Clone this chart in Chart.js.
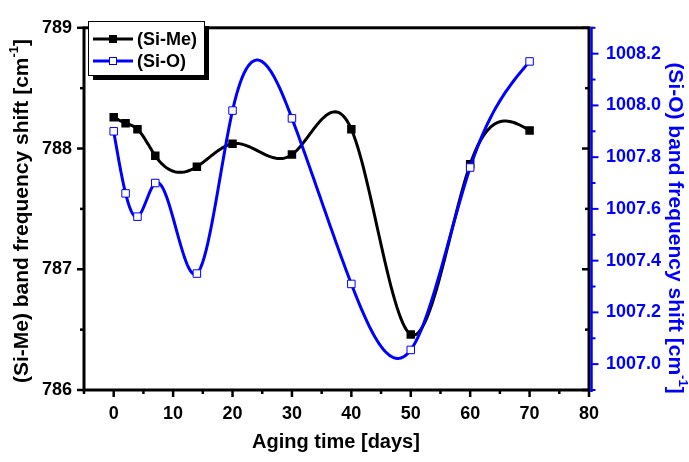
<!DOCTYPE html>
<html>
<head>
<meta charset="utf-8">
<script src="https://cdn.jsdelivr.net/npm/chart.js@4.4.0/dist/chart.umd.min.js"></script>
<style>
  html, body { margin: 0; padding: 0; background: #fff; }
  #wrap { width: 689px; height: 462px; }
</style>
</head>
<body>
<div id="wrap"><canvas id="chart"></canvas></div>
<script>
// data
const agingDays = [0, 2, 4, 7, 14, 20, 30, 40, 50, 60, 70];
const siMeShift = [788.26, 788.21, 788.16, 787.94, 787.85, 788.04, 787.95, 788.16, 786.46, 787.87, 788.15];
const siOShift = [1007.90, 1007.66, 1007.57, 1007.70, 1007.35, 1007.98, 1007.95, 1007.31, 1007.055, 1007.76, 1008.17];
const seriesNames = ['(Si-Me)', '(Si-O)'];
const xTitle = 'Aging time [days]';
const leftTitle = '(Si-Me) band frequency shift [cm';
const rightTitle = '(Si-O) band frequency shift [cm';

const BLUE = '#0000ff';
const BLACK = '#000000';
const FONT = "'Liberation Sans', Arial, sans-serif";

// natural cubic spline (Origin style "Spline" connector)
function secondDerivs(xs, ys) {
  const n = xs.length;
  const M = new Array(n).fill(0);
  const c = new Array(n).fill(0);
  const d = new Array(n).fill(0);
  for (let i = 1; i < n - 1; i++) {
    const h0 = xs[i] - xs[i - 1], h1 = xs[i + 1] - xs[i];
    const a = h0, b = 2 * (h0 + h1);
    const rhs = 6 * ((ys[i + 1] - ys[i]) / h1 - (ys[i] - ys[i - 1]) / h0);
    const den = b - a * c[i - 1];
    c[i] = h1 / den;
    d[i] = (rhs - a * d[i - 1]) / den;
  }
  for (let i = n - 2; i >= 1; i--) M[i] = d[i] - c[i] * M[i + 1];
  return M;
}

const splinePlugin = {
  id: 'spline',
  beforeDatasetDraw(chart, args) {
    const ds = chart.data.datasets[args.index];
    const xs = ds.data.map(p => p.x);
    const ys = ds.data.map(p => p.y);
    const M = secondDerivs(xs, ys);
    const xs_ = chart.scales.x, ys_ = chart.scales[ds.yAxisID];
    const ctx = chart.ctx, area = chart.chartArea;
    ctx.save();
    ctx.beginPath();
    ctx.rect(area.left, area.top, area.right - area.left, area.bottom - area.top);
    ctx.clip();
    ctx.beginPath();
    for (let i = 0; i < xs.length - 1; i++) {
      const h = xs[i + 1] - xs[i];
      const steps = 30;
      for (let s = 0; s <= steps; s++) {
        const x = xs[i] + h * s / steps;
        const A = (xs[i + 1] - x) / h, B = (x - xs[i]) / h;
        const y = A * ys[i] + B * ys[i + 1] + ((A * A * A - A) * M[i] + (B * B * B - B) * M[i + 1]) * h * h / 6;
        const px = xs_.getPixelForValue(x), py = ys_.getPixelForValue(y);
        if (i === 0 && s === 0) ctx.moveTo(px, py); else ctx.lineTo(px, py);
      }
    }
    ctx.strokeStyle = ds.borderColor;
    ctx.lineWidth = 3;
    ctx.lineJoin = 'round';
    ctx.stroke();
    ctx.restore();
  }
};

function drawSupTitle(ctx, text, size) {
  // text + superscript "-1" + "]"
  ctx.font = `bold ${size}px ${FONT}`;
  const w1 = ctx.measureText(text).width;
  ctx.font = `bold ${Math.round(size * 0.62)}px ${FONT}`;
  const w2 = ctx.measureText('-1').width;
  ctx.font = `bold ${size}px ${FONT}`;
  const w3 = ctx.measureText(']').width;
  let x = -(w1 + w2 + w3) / 2;
  ctx.textAlign = 'left';
  ctx.textBaseline = 'middle';
  ctx.fillText(text, x, 0);
  x += w1;
  ctx.font = `bold ${Math.round(size * 0.62)}px ${FONT}`;
  ctx.fillText('-1', x, -size * 0.36);
  x += w2;
  ctx.font = `bold ${size}px ${FONT}`;
  ctx.fillText(']', x, 0);
}

const framePlugin = {
  id: 'frame',
  afterDraw(chart) {
    const ctx = chart.ctx, a = chart.chartArea;
    const sx = chart.scales.x, sl = chart.scales.yL, sr = chart.scales.yR;
    ctx.save();

    // bottom ticks (outward) and left ticks (outward), mirrored left ticks on right (inward)
    ctx.strokeStyle = BLACK;
    ctx.lineWidth = 2.5;
    sx.ticks.forEach(t => {
      const px = sx.getPixelForValue(t.value);
      const len = t.label !== '' ? 7 : 4;
      ctx.beginPath(); ctx.moveTo(px, a.bottom); ctx.lineTo(px, a.bottom + len); ctx.stroke();
    });
    sl.ticks.forEach(t => {
      const py = sl.getPixelForValue(t.value);
      const len = t.label !== '' ? 7 : 4;
      ctx.beginPath(); ctx.moveTo(a.left, py); ctx.lineTo(a.left - len, py); ctx.stroke();
      ctx.beginPath(); ctx.moveTo(a.right, py); ctx.lineTo(a.right - len, py); ctx.stroke();
    });

    // frame
    ctx.lineWidth = 3;
    ctx.strokeRect(a.left, a.top, a.right - a.left, a.bottom - a.top);

    // right blue axis
    ctx.strokeStyle = BLUE;
    ctx.lineWidth = 2.5;
    const rx = a.right + 2.5;
    ctx.beginPath(); ctx.moveTo(rx, a.top - 1); ctx.lineTo(rx, sr.getPixelForValue(1006.9) + 2); ctx.stroke();
    ctx.lineWidth = 2;
    sr.ticks.forEach(t => {
      const py = sr.getPixelForValue(t.value);
      const len = t.label !== '' ? 7 : 4;
      ctx.beginPath(); ctx.moveTo(rx, py); ctx.lineTo(rx + len, py); ctx.stroke();
    });

    // axis titles
    ctx.fillStyle = BLACK;
    ctx.font = `bold 20px ${FONT}`;
    ctx.textAlign = 'center';
    ctx.textBaseline = 'middle';
    ctx.fillText(xTitle, (a.left + a.right) / 2 - 0.5, 442);

    ctx.save();
    ctx.translate(22, 211);
    ctx.rotate(-Math.PI / 2);
    drawSupTitle(ctx, leftTitle, 21);
    ctx.restore();

    ctx.save();
    ctx.fillStyle = BLUE;
    ctx.translate(675, 228);
    ctx.rotate(Math.PI / 2);
    drawSupTitle(ctx, rightTitle, 21);
    ctx.restore();

    // legend
    const lx = 88, ly = 21, lw = 116, lh = 54;
    ctx.fillStyle = BLACK;
    ctx.fillRect(lx + 5, ly + 5, lw, lh);
    ctx.fillStyle = '#fff';
    ctx.fillRect(lx, ly, lw, lh);
    ctx.strokeStyle = BLACK;
    ctx.lineWidth = 1;
    ctx.strokeRect(lx + 0.5, ly + 0.5, lw, lh);
    const rows = [
      { name: seriesNames[0], color: BLACK, fill: BLACK, y: 39 },
      { name: seriesNames[1], color: BLUE, fill: '#fff', y: 61 }
    ];
    rows.forEach(r => {
      ctx.strokeStyle = r.color;
      ctx.lineWidth = 3;
      ctx.beginPath(); ctx.moveTo(93, r.y); ctx.lineTo(133, r.y); ctx.stroke();
      ctx.fillStyle = r.fill;
      ctx.fillRect(109, r.y - 4, 8, 8);
      ctx.strokeStyle = r.color;
      ctx.lineWidth = 1;
      ctx.strokeRect(109.5, r.y - 3.5, 7, 7);
      ctx.fillStyle = BLACK;
      ctx.font = `bold 18px ${FONT}`;
      ctx.textAlign = 'left';
      ctx.textBaseline = 'middle';
      ctx.fillText(r.name, 137, r.y + 1);
    });

    ctx.restore();
  }
};

const tickFont = { family: FONT, size: 18, weight: 'bold' };

new Chart(document.getElementById('chart'), {
  type: 'line',
  data: {
    datasets: [
      {
        label: seriesNames[0],
        data: agingDays.map((d, i) => ({ x: d, y: siMeShift[i] })),
        yAxisID: 'yL',
        showLine: false,
        borderColor: BLACK,
        pointStyle: 'rect',
        pointRadius: 6,
        pointBackgroundColor: BLACK,
        pointBorderColor: BLACK,
        pointBorderWidth: 0,
        order: 1
      },
      {
        label: seriesNames[1],
        data: agingDays.map((d, i) => ({ x: d, y: siOShift[i] })),
        yAxisID: 'yR',
        showLine: false,
        borderColor: BLUE,
        pointStyle: 'rect',
        pointRadius: 5.3,
        pointBackgroundColor: '#ffffff',
        pointBorderColor: BLUE,
        pointBorderWidth: 1,
        order: 0
      }
    ]
  },
  options: {
    responsive: true,
    maintainAspectRatio: false,
    animation: false,
    layout: { padding: { top: 17, right: 0, left: 0, bottom: 0 } },
    plugins: {
      legend: { display: false },
      tooltip: { enabled: false }
    },
    scales: {
      x: {
        type: 'linear',
        min: -5,
        max: 80,
        afterFit: s => { s.height = 72; },
        grid: { display: false, drawTicks: false },
        border: { display: false },
        ticks: {
          stepSize: 5,
          autoSkip: false,
          maxRotation: 0,
          includeBounds: false,
          padding: 13,
          color: BLACK,
          font: tickFont,
          callback: v => (v % 10 === 0 ? String(v) : '')
        }
      },
      yL: {
        type: 'linear',
        position: 'left',
        min: 786,
        max: 789,
        afterFit: s => { s.width = 84; },
        grid: { display: false, drawTicks: false },
        border: { display: false },
        ticks: {
          stepSize: 0.5,
          autoSkip: false,
          includeBounds: false,
          padding: 12,
          color: BLACK,
          font: tickFont,
          callback: v => (Math.abs(v - Math.round(v)) < 1e-6 ? String(Math.round(v)) : '')
        }
      },
      yR: {
        type: 'linear',
        position: 'right',
        min: 1006.9,
        max: 1008.3,
        afterFit: s => { s.width = 100; },
        grid: { display: false, drawTicks: false },
        border: { display: false },
        ticks: {
          stepSize: 0.1,
          autoSkip: false,
          includeBounds: false,
          padding: 17,
          color: BLUE,
          font: tickFont,
          callback: v => {
            const k = Math.round(v * 10);
            return (k % 2 === 0 && v > 1006.95 && v < 1008.25) ? (k / 10).toFixed(1) : '';
          }
        }
      }
    }
  },
  plugins: [splinePlugin, framePlugin]
});
</script>
</body>
</html>
